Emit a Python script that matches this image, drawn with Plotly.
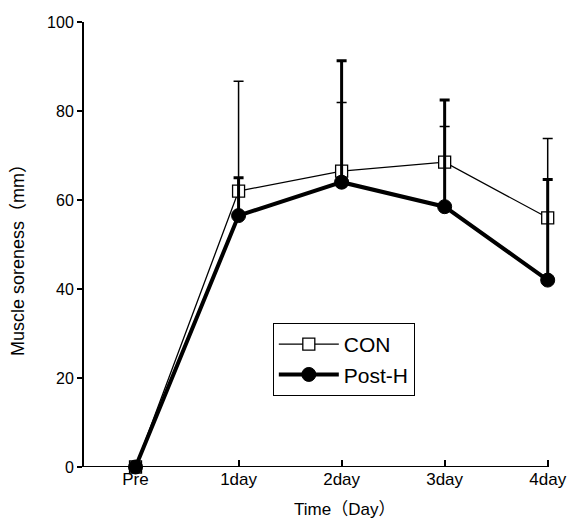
import plotly.graph_objects as go

categories = ["Pre", "1day", "2day", "3day", "4day"]
x_pos = [0, 1, 2, 3, 4]
con_values = [0, 62, 66.5, 68.5, 56]
con_err_plus = [None, 24.7, 15.4, 8.0, 17.8]
posth_values = [0, 56.5, 64, 58.5, 42]
posth_err_plus = [None, 8.5, 27.3, 24.0, 22.6]
y_ticks = [0, 20, 40, 60, 80, 100]

FONT = "Liberation Sans, Arial, Noto Sans CJK JP, sans-serif"

fig = go.Figure()
fig.add_trace(go.Scatter(
    x=x_pos, y=con_values, name="CON", mode="lines+markers",
    line=dict(color="black", width=1.3),
    marker=dict(symbol="square", size=12, color="white", line=dict(color="black", width=1.3)),
    error_y=dict(type="data", symmetric=False, array=con_err_plus,
                 arrayminus=[0] * len(con_err_plus), width=5, thickness=1.5, color="black"),
    cliponaxis=False,
))
fig.add_trace(go.Scatter(
    x=x_pos, y=posth_values, name="Post-H", mode="lines+markers",
    line=dict(color="black", width=4),
    marker=dict(symbol="circle", size=14, color="black", line=dict(color="black", width=1)),
    error_y=dict(type="data", symmetric=False, array=posth_err_plus,
                 arrayminus=[0] * len(posth_err_plus), width=5, thickness=3, color="black"),
    cliponaxis=False,
))

# x axis line ends at the last category, as in the reference
fig.add_shape(type="line", xref="x", yref="y", x0=-0.5, x1=4.0, y0=0, y1=0,
              line=dict(color="black", width=2), layer="below")

fig.update_layout(
    width=575, height=520,
    margin=dict(l=84, r=9, t=22, b=53),
    paper_bgcolor="white", plot_bgcolor="white",
    font=dict(family=FONT, size=16, color="black"),
    showlegend=True,
    legend=dict(x=(276 - 84) / 482, y=(467 - 323) / 445, xanchor="left", yanchor="top",
                bordercolor="black", borderwidth=1, bgcolor="white",
                font=dict(size=21), itemwidth=60, tracegroupgap=0),
    xaxis=dict(range=[-0.5, 4.1], tickmode="array", tickvals=x_pos, ticktext=categories,
               showline=False, ticks="inside",
               ticklen=7, tickwidth=2, tickcolor="black", showgrid=False, zeroline=False,
               tickfont=dict(size=17)),
    yaxis=dict(range=[0, 100], tickmode="array", tickvals=y_ticks,
               showline=True, linecolor="black", linewidth=2, ticks="outside",
               ticklen=5, tickwidth=2, tickcolor="black", showgrid=False, zeroline=False,
               tickfont=dict(size=16)),
    annotations=[
        dict(text="Time（Day）", xref="paper", yref="paper",
             x=(349 - 84) / 482, y=-(509 - 467) / 445, xanchor="center", yanchor="middle",
             showarrow=False, font=dict(size=17)),
        dict(text="Muscle soreness（mm）", xref="paper", yref="paper",
             x=-(84 - 17) / 482, y=(467 - 256) / 445, xanchor="center", yanchor="middle",
             textangle=-90, showarrow=False, font=dict(size=18)),
    ],
)

fig.write_html("out.html", config={"displayModeBar": False},
               post_script="document.body.style.margin='0';")
